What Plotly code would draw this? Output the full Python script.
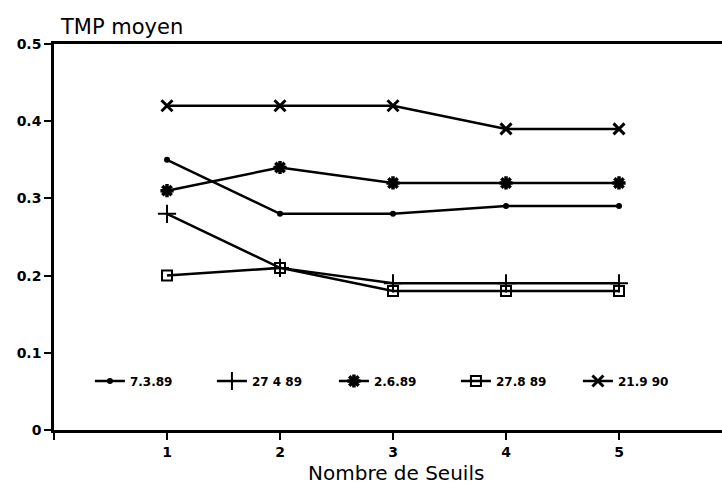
import plotly.graph_objects as go

seuils = [1, 2, 3, 4, 5]
s_7389 = [0.35, 0.28, 0.28, 0.29, 0.29]
s_27489 = [0.28, 0.21, 0.19, 0.19, 0.19]
s_2689 = [0.31, 0.34, 0.32, 0.32, 0.32]
s_27889 = [0.20, 0.21, 0.18, 0.18, 0.18]
s_21990 = [0.42, 0.42, 0.42, 0.39, 0.39]
names = ["7.3.89", "27 4 89", "2.6.89", "27.8 89", "21.9 90"]

x_tickvals = [0, 1, 2, 3, 4, 5]
x_ticktext = ["", "1", "2", "3", "4", "5"]
y_tickvals = [0, 0.1, 0.2, 0.3, 0.4, 0.5]
y_ticktext = ["0", "0.1", "0.2", "0.3", "0.4", "0.5"]

FONT = "DejaVu Sans, Liberation Sans, sans-serif"

series = [s_7389, s_27489, s_2689, s_27889, s_21990]
markers = [
    dict(symbol="circle", size=6, color="black"),
    dict(symbol="cross-thin", size=13, color="black", line=dict(width=2, color="black")),
    dict(symbol="asterisk", size=11, color="black", line=dict(width=3.5, color="black")),
    dict(symbol="square-open", size=10, color="black", line=dict(width=2, color="black")),
    dict(symbol="x-thin", size=11, color="black", line=dict(width=3, color="black")),
]

fig = go.Figure()
for name, vals, mk in zip(names, series, markers):
    fig.add_trace(go.Scatter(
        x=seuils, y=vals, name=name, mode="lines+markers",
        line=dict(color="black", width=2.5),
        marker=mk,
    ))

fig.update_layout(
    width=732, height=492,
    margin=dict(l=54, r=0, t=44, b=62, autoexpand=False),
    plot_bgcolor="white", paper_bgcolor="white",
    font=dict(family=FONT, color="black"),
    showlegend=True,
    legend=dict(
        orientation="h", x=0.053, xanchor="left", y=0.127, yanchor="middle",
        font=dict(family=FONT, size=12, weight="bold", color="black"),
        bgcolor="rgba(0,0,0,0)", entrywidth=77, entrywidthmode="pixels",
        itemwidth=30,
    ),
    xaxis=dict(
        range=[0, 6], tickvals=x_tickvals, ticktext=x_ticktext,
        showgrid=False, zeroline=False, showline=True, linecolor="black",
        linewidth=2.5, mirror=True, ticks="outside", ticklen=7, tickwidth=2,
        tickcolor="black", automargin=False,
        tickfont=dict(family=FONT, size=14, weight="bold", color="black"),
    ),
    yaxis=dict(
        range=[0, 0.5], tickvals=y_tickvals, ticktext=y_ticktext,
        showgrid=False, zeroline=False, showline=True, linecolor="black",
        linewidth=2.5, mirror=False, ticks="outside", ticklen=7, tickwidth=2,
        tickcolor="black", automargin=False,
        tickfont=dict(family=FONT, size=14, weight="bold", color="black"),
    ),
    annotations=[
        dict(text="TMP moyen", xref="paper", yref="paper", x=0.0059, y=1,
             xanchor="left", yanchor="bottom", yshift=3, showarrow=False,
             font=dict(family=FONT, size=21, color="black")),
        dict(text="Nombre de Seuils", xref="x", yref="paper", x=3.03, y=0,
             xanchor="center", yanchor="top", yshift=-29, showarrow=False,
             font=dict(family=FONT, size=20, color="black")),
    ],
)

fig.write_html(
    "out.html",
    config={"displayModeBar": False},
    post_script=(
        "document.documentElement.style.overflow='hidden';"
        "document.body.style.margin='0px';"
        "document.body.style.overflow='hidden';"
    ),
)
